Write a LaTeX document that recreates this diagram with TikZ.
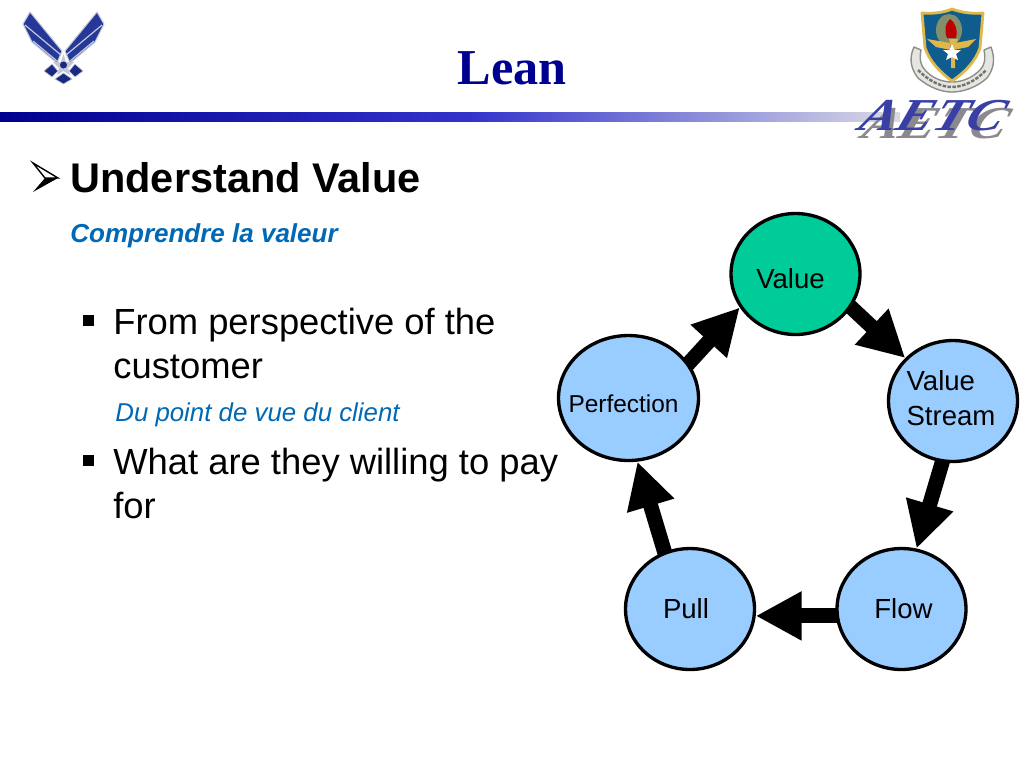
\documentclass[tikz,border=0pt]{standalone}
\usepackage{fontspec}
\setmainfont{Liberation Sans}
\newfontfamily\titlefont{Liberation Serif}
\usetikzlibrary{shapes.geometric,arrows.meta,backgrounds}
\definecolor{navyblue}{HTML}{000090}
\definecolor{barmid}{HTML}{3333CC}
\definecolor{barend}{HTML}{DADAE6}
\definecolor{frenchblue}{HTML}{0068B4}
\definecolor{lobeblue}{HTML}{99CCFF}
\definecolor{lobegreen}{HTML}{00CC99}
\definecolor{wingblue}{HTML}{25389A}
\definecolor{wingdark}{HTML}{1B2A80}
\definecolor{wingedge}{HTML}{C4C8D6}
\definecolor{shieldblue}{HTML}{0F5C8E}
\definecolor{shieldgold}{HTML}{E0B84A}
\definecolor{ribbongrey}{HTML}{C8CCC0}
\definecolor{aetcblue}{HTML}{3A3FA6}
\definecolor{aetcgrey}{HTML}{8A8A8E}
\tikzset{
    lobe/.style={ellipse,draw=black,line width=1.9pt,inner sep=0pt,
        minimum width=2.58cm,minimum height=2.42cm,fill=lobeblue},
    lobetext/.style={anchor=center,align=left,font=\fontsize{15.7}{20}\selectfont},
    flowarrow/.style={line width=8.5pt,shorten <=-6pt,
        -{Triangle[length=0.92cm,width=0.92cm]}},
    bullettext/.style={anchor=base west,align=left,font=\fontsize{20.7}{25}\selectfont},
    frenchtext/.style={anchor=base west,text=frenchblue,font=\fontsize{14.7}{18}\selectfont\itshape},
    squarebullet/.style={fill=black},
    wingpart/.style={fill=wingblue,draw=wingedge,line width=0.6pt,line join=round},
    wingline/.style={draw=wingedge,line width=0.7pt},
    aetcletters/.style={font=\titlefont\bfseries\itshape\fontsize{26}{28}\selectfont,
        xscale=1.2,xslant=0.3,transform shape}
}
\begin{document}
\begin{tikzpicture}[x=0.02cm,y=-0.02cm,inner sep=0pt]
    \useasboundingbox (0,0) rectangle (1024,779);
    \begin{pgfonlayer}{background}
        \fill[white] (0,0) rectangle (1024,779);
    \end{pgfonlayer}

    % Header
    \node[text=navyblue,font=\titlefont\bfseries\fontsize{28.6}{30}\selectfont] (title) at (512,68) {Lean};
    \shade[left color=navyblue,right color=barmid] (0,112) rectangle (470,121);
    \shade[left color=barmid,right color=barend] (470,112) rectangle (900,121);

    % Wings
    \foreach \s/\o in {1/0,-1/127}{
        \begin{scope}[shift={(\o,0)},xscale=\s]
            \draw[wingpart] (30,12) -- (23,24) -- (32,42) -- (57,63) -- (62,51) -- cycle;
            \draw[wingline] (25,25) -- (61,55);
            \draw[wingline] (33,41) -- (57,61);
            \fill[wingdark,draw=wingedge,line width=0.4pt] (44,71) -- (52,64) -- (58,71) -- (52,77) -- cycle;
        \end{scope}
    }
    \fill[wingdark,draw=wingedge,line width=0.4pt] (55,79) -- (63.5,73) -- (72,79) -- (63.5,84) -- cycle;
    \fill[wingedge] (63.5,54) -- (66,62) -- (74,62) -- (68,68) -- (70,75) -- (63.5,71)
        -- (57,75) -- (59,68) -- (53,62) -- (61,62) -- cycle;
    \fill[wingdark] (63.5,65) circle[radius=3.5];

    % Shield
    \draw[ribbongrey!70!black,fill=ribbongrey!50,line width=0.8pt,line join=round] (914,47) .. controls (908,60) and (912,70) .. (918,78)
        .. controls (930,88) and (942,92) .. (952,92) .. controls (962,92) and (976,88) .. (987,78)
        .. controls (993,70) and (996,60) .. (991,47) -- (984,50) .. controls (986,60) and (984,66) .. (980,70)
        .. controls (972,78) and (962,82) .. (952,82) .. controls (942,82) and (932,78) .. (925,70)
        .. controls (921,66) and (919,60) .. (921,50) -- cycle;
    \draw[black!55,line width=1.4pt,dash pattern=on 2pt off 0.8pt] (918,70) .. controls (930,82) and (942,87) .. (952,87) .. controls (962,87) and (975,82) .. (986,70);
    \draw[shieldgold,fill=shieldblue,line width=1.6pt,line join=round] (922,13) .. controls (935,14) and (945,12) .. (952,9)
        .. controls (960,12) and (970,14) .. (983,13) -- (980,48) .. controls (975,62) and (965,72) .. (952,81)
        .. controls (940,72) and (930,62) .. (925,48) -- cycle;
    \fill[shieldgold!55!shieldblue] (949,30) ellipse[x radius=13,y radius=16];
    \fill[shieldgold] (949,39) -- (958,39) -- (955,46) -- (955,68) -- (951,68) -- (951,46) -- cycle;
    \fill[shieldgold] (927,39) -- (950,43) -- (951,50) -- (936,47) -- cycle;
    \fill[shieldgold] (976,39) -- (955,43) -- (953,50) -- (968,47) -- cycle;
    \fill[white] (952,44) -- (954.5,50) -- (961,50) -- (956,54) -- (958,60) -- (952,57)
        -- (946,60) -- (948,54) -- (943,50) -- (949.5,50) -- cycle;
    \fill[red!75!black] (947,38) .. controls (944,30) and (945,24) .. (950,19)
        .. controls (955,22) and (958,30) .. (956,38) -- cycle;

    % AETC lettering
    \node[aetcletters,text=aetcgrey] (aetcside) at (937,124) {AETC};
    \node[aetcletters,text=aetcblue] (aetc) at (934,116) {AETC};

    % Left text
    \draw[fill=white,line width=0.8pt,line join=miter] (33,163) -- (58,178) -- (45,178) -- cycle;
    \fill[black] (33,192) -- (58,178) -- (45,178) -- cycle;
    \node[anchor=base west,font=\fontsize{23.6}{28}\selectfont\bfseries] (heading) at (70,192) {Understand Value};
    \node[frenchtext,font=\fontsize{14.8}{18}\selectfont\bfseries\itshape] (headingfr) at (70,242) {Comprendre la valeur};
    \fill[squarebullet] (83,315) rectangle (94,326);
    \node[bullettext] (pointa) at (113,378) {From perspective of the\\customer};
    \node[frenchtext] (pointafr) at (115,421) {Du point de vue du client};
    \fill[squarebullet] (83,455) rectangle (94,466);
    \node[bullettext] (pointb) at (113,518) {What are they willing to pay\\for};

    % Cycle
    \node[lobe,fill=lobegreen,label={[lobetext,xshift=-0.1cm,yshift=-0.1cm]center:Value}] (value) at (795.5,274) {};
    \node[lobe,label={[lobetext,xshift=-0.04cm,yshift=0.06cm]center:Value\\Stream}] (stream) at (953,401) {};
    \node[lobe,label={[lobetext,xshift=0.04cm,yshift=0cm]center:Flow}] (flow) at (901.5,609) {};
    \node[lobe,label={[lobetext,xshift=-0.08cm,yshift=0cm]center:Pull}] (pull) at (690,609) {};
    \node[lobe,minimum width=2.8cm,minimum height=2.5cm,
        label={[lobetext,font=\fontsize{13.9}{17}\selectfont,xshift=-0.1cm,yshift=-0.12cm]center:Perfection}] (perfection) at (628.5,398) {};

    \begin{pgfonlayer}{background}
        \draw[flowarrow] (value.-31) -- (stream.138);
        \draw[flowarrow] (stream.-100) -- (flow.76);
        \draw[flowarrow] (flow.186) -- (pull.-6);
        \draw[flowarrow] (pull.114) -- (perfection.-82);
        \draw[flowarrow] (perfection.30) -- (value.211);
    \end{pgfonlayer}
\end{tikzpicture}
\end{document}
